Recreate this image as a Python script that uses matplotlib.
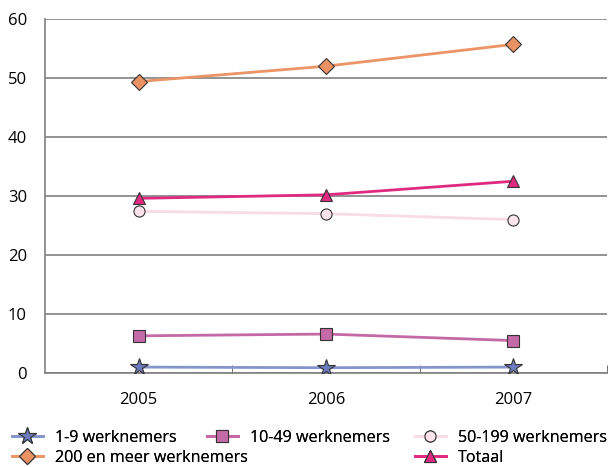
import matplotlib.pyplot as plt

plt.rcParams['font.family'] = ['Open Sans', 'DejaVu Sans']

years = ['2005', '2006', '2007']
w1_9 = [1.0, 0.9, 1.0]
w10_49 = [6.3, 6.6, 5.5]
w50_199 = [27.4, 27.0, 26.0]
w200 = [49.4, 52.0, 55.7]
totaal = [29.6, 30.2, 32.5]

labels = ['1-9 werknemers', '10-49 werknemers', '50-199 werknemers',
          '200 en meer werknemers', 'Totaal']

W, H = 609, 467
fig = plt.figure(figsize=(W / 100, H / 100), dpi=100)
ax = fig.add_axes([45 / W, 1 - 373 / H, (607 - 45) / W, (373 - 19) / H])

x = list(range(len(years)))
styles = [
    (w1_9, '#8595cc', '*', '#6b7bbd', 13),
    (w10_49, '#c468a6', 's', '#c46aa6', 8),
    (w50_199, '#f9dbe6', 'o', '#fbe3ec', 8),
    (w200, '#eb9566', 'D', '#ea9263', 8),
    (totaal, '#e02a80', '^', '#e02a80', 9),
]
handles = []
for (vals, lc, m, fc, ms), lab in zip(styles, labels):
    h, = ax.plot(x, vals, color=lc, lw=2, marker=m, markerfacecolor=fc,
                 markeredgecolor='#333333', markeredgewidth=0.8, markersize=ms,
                 label=lab, zorder=3)
    handles.append(h)

ax.set_xlim(-0.5, 2.5)
ax.set_ylim(0, 60)
ax.set_yticks(range(0, 61, 10))
ax.yaxis.grid(True, color='#808080', lw=1.2)
ax.set_axisbelow(True)
ax.set_xticks(x)
ax.set_xticklabels(years)
ax.set_xticks([0.5, 1.5, 2.5], minor=True)
ax.tick_params(axis='x', which='major', length=0, pad=14, labelsize=12)
ax.tick_params(axis='x', which='minor', length=6, direction='in', color='#555555')
ax.tick_params(axis='y', length=0, pad=13, labelsize=12)
for s in ['top', 'right']:
    ax.spines[s].set_visible(False)
for s in ['left', 'bottom']:
    ax.spines[s].set_color('#808080')
    ax.spines[s].set_linewidth(1.2)

# legend in three columns placed by hand
cols = [([handles[0], handles[3]], [labels[0], labels[3]], 12),
        ([handles[1]], [labels[1]], 207),
        ([handles[2], handles[4]], [labels[2], labels[4]], 415)]
for hs, ls, x0 in cols:
    leg = fig.legend(hs, ls, loc='upper left', bbox_to_anchor=(x0 / W, 1 - 430 / H),
                     frameon=False, fontsize=11.6, handlelength=1.9, borderpad=0,
                     borderaxespad=0, labelspacing=0.22, handletextpad=0.75)
    fig.add_artist(leg)

fig.savefig('out.png', dpi=100)
